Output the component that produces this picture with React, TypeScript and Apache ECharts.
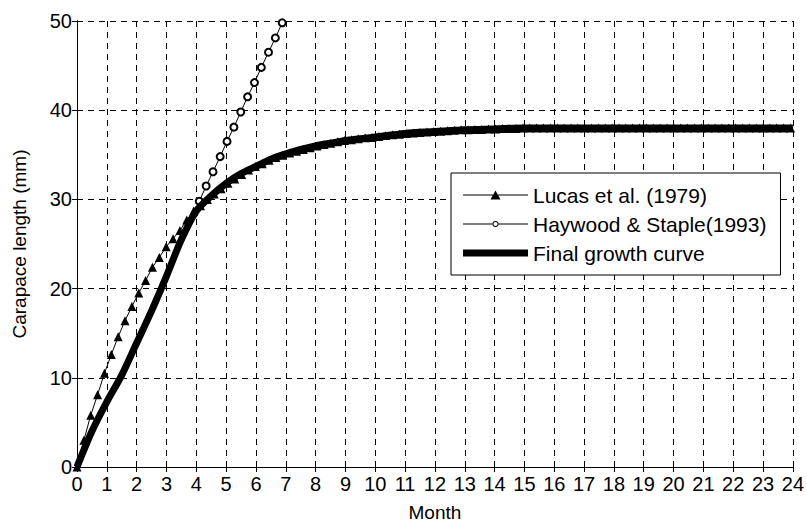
import React, { useEffect, useRef } from "react";
import * as echarts from "echarts";

const lucasMonths = [
  0, 0.23, 0.46, 0.69, 0.92, 1.15, 1.38, 1.61, 1.84, 2.07, 2.3, 2.53, 2.76, 2.99, 3.22, 3.45, 3.68, 3.91,
  4.14, 4.37, 4.6, 4.83, 5.06, 5.29, 5.52, 5.75, 5.98, 6.21, 6.44, 6.67, 6.9, 7.13, 7.36, 7.59, 7.82,
  8.05, 8.28, 8.51, 8.74, 8.97, 9.2, 9.43, 9.66, 9.89, 10.12, 10.35, 10.58, 10.81, 11.04, 11.27, 11.5,
  11.73, 11.96, 12.19, 12.42, 12.65, 12.88, 13.11, 13.34, 13.57, 13.8, 14.03, 14.26, 14.49, 14.72, 14.95,
  15.18, 15.41, 15.64, 15.87, 16.1, 16.33, 16.56, 16.79, 17.02, 17.25, 17.48, 17.71, 17.94, 18.17, 18.4,
  18.63, 18.86, 19.09, 19.32, 19.55, 19.78, 20.01, 20.24, 20.47, 20.7, 20.93, 21.16, 21.39, 21.62, 21.85,
  22.08, 22.31, 22.54, 22.77, 23.0, 23.23, 23.46, 23.69, 23.92,
];
const lucasLength = [
  0, 3.0, 5.8, 8.1, 10.5, 12.6, 14.6, 16.4, 18.0, 19.5, 20.9, 22.4, 23.5, 24.7, 25.6, 26.5, 27.7, 28.7,
  29.3, 30.0, 30.6, 31.2, 31.8, 32.3, 32.8, 33.3, 33.7, 34.0, 34.4, 34.7, 34.95, 35.2, 35.4, 35.6, 35.8,
  36.0, 36.15, 36.3, 36.45, 36.6, 36.7, 36.8, 36.9, 36.95, 37.05, 37.15, 37.25, 37.3, 37.4, 37.45, 37.5,
  37.55, 37.6, 37.65, 37.7, 37.75, 37.8, 37.8, 37.85, 37.85, 37.9, 37.9, 37.95, 37.95, 37.95, 38.0,
  38.0, 38.0, 38.0, 38.0, 38.0, 38.0, 38.0, 38.0, 38.0, 38.0, 38.0, 38.0, 38.0, 38.0, 38.0,
  38.0, 38.0, 38.0, 38.0, 38.0, 38.0, 38.0, 38.0, 38.0, 38.0, 38.0, 38.0, 38.0, 38.0, 38.0,
  38.0, 38.0, 38.0, 38.0, 38.0, 38.0, 38.0, 38.0, 38.0,
];

const haywoodMonths = [4.1, 4.33, 4.56, 4.8, 5.03, 5.26, 5.49, 5.72, 5.95, 6.18, 6.42, 6.65, 6.88];
const haywoodLength = [29.8, 31.5, 33.1, 34.8, 36.5, 38.1, 39.8, 41.5, 43.1, 44.8, 46.5, 48.1, 49.8];

const finalMonths = [
  0, 0.5, 1, 1.5, 2, 2.5, 3, 3.5, 4, 4.5, 5, 5.5, 6, 6.5, 7, 7.5, 8, 8.5, 9, 9.5, 10,
  11, 12, 13, 14, 15, 16, 17, 18, 19, 20, 21, 22, 23, 24,
];
const finalLength = [
  0, 4.0, 7.3, 10.3, 13.9, 17.5, 21.4, 25.5, 28.7, 30.4, 31.8, 32.9, 33.7, 34.5, 35.1, 35.6, 36.0, 36.3,
  36.6, 36.8, 37.0, 37.4, 37.6, 37.8, 37.9, 38.0, 38.0, 38.0, 38.0, 38.0, 38.0, 38.0, 38.0, 38.0, 38.0,
];

const seriesNames = ["Lucas et al. (1979)", "Haywood & Staple(1993)", "Final growth curve"];
const xAxisName = "Month";
const yAxisName = "Carapace length (mm)";

function pairs(xs: number[], ys: number[]) {
  const n = Math.min(xs.length, ys.length);
  const out: number[][] = [];
  for (let i = 0; i < n; i++) out.push([xs[i], ys[i]]);
  return out;
}

const FONT = "Arial, 'Liberation Sans', Helvetica, sans-serif";

const ICON_LUCAS = "path://M0,4L65,4L65,5L0,5Z M27.5,9L32.5,0L37.5,9Z";
const ICON_HAYWOOD =
  "path://M0,3.5L29.5,3.5L29.5,4.5L0,4.5Z M35.5,3.5L65,3.5L65,4.5L35.5,4.5Z " +
  "M29.5,4A3,3 0 1,1 35.5,4A3,3 0 1,1 29.5,4Z M30.4,4A2.1,2.1 0 1,0 34.6,4A2.1,2.1 0 1,0 30.4,4Z";
const ICON_FINAL = "path://M0,0L65,0L65,7L0,7Z";

export default function App() {
  const ref = useRef<HTMLDivElement>(null);
  useEffect(() => {
    if (!ref.current) return;
    const chart = echarts.init(ref.current, null, { renderer: "svg" });
    const grid = { color: "#000", type: [6, 5] as any, width: 1 };
    const iconStyle = { color: "#000", borderWidth: 0 };
    chart.setOption({
      animation: false,
      backgroundColor: "#fff",
      textStyle: { fontFamily: FONT, color: "#000" },
      grid: { left: 77, right: 10, top: 21, bottom: 55, containLabel: false },
      legend: {
        orient: "vertical",
        left: 451,
        top: 173,
        padding: [10, 14, 10, 12],
        itemGap: 5,
        itemWidth: 65,
        itemHeight: 20,
        backgroundColor: "#fff",
        borderColor: "#000",
        borderWidth: 1,
        borderRadius: 0,
        symbolKeepAspect: true,
        textStyle: { fontSize: 21, lineHeight: 24, color: "#000", fontFamily: FONT },
        data: [
          { name: seriesNames[0], icon: ICON_LUCAS, itemStyle: iconStyle },
          { name: seriesNames[1], icon: ICON_HAYWOOD, itemStyle: iconStyle },
          { name: seriesNames[2], icon: ICON_FINAL, itemStyle: iconStyle },
        ],
      },
      xAxis: [
        {
          type: "value",
          min: 0,
          max: 24,
          interval: 1,
          name: xAxisName,
          nameLocation: "middle",
          nameGap: 36,
          nameTextStyle: { fontSize: 19, color: "#000", fontFamily: FONT },
          axisLine: { show: true, lineStyle: { color: "#000", width: 1 } },
          axisTick: { show: true, inside: true, length: 5, lineStyle: { color: "#000" } },
          axisLabel: { fontSize: 20, color: "#000", margin: 7, fontFamily: FONT },
          splitLine: { show: true, lineStyle: grid },
        },
        {
          type: "value",
          position: "top",
          min: 0,
          max: 24,
          interval: 1,
          axisLine: { show: true, lineStyle: { color: "#000", width: 1 } },
          axisTick: { show: true, inside: true, length: 5, lineStyle: { color: "#000" } },
          axisLabel: { show: false },
          splitLine: { show: false },
        },
      ],
      yAxis: [
        {
          type: "value",
          min: 0,
          max: 50,
          interval: 10,
          name: yAxisName,
          nameLocation: "middle",
          nameGap: 48,
          nameTextStyle: { fontSize: 19, color: "#000", fontFamily: FONT },
          axisLine: { show: true, lineStyle: { color: "#000", width: 1 } },
          axisTick: { show: true, inside: true, length: 5, lineStyle: { color: "#000" } },
          axisLabel: { fontSize: 20, color: "#000", margin: 5, fontFamily: FONT },
          splitLine: { show: true, lineStyle: grid },
        },
        {
          type: "value",
          position: "right",
          min: 0,
          max: 50,
          interval: 10,
          axisLine: { show: true, lineStyle: { color: "#000", width: 1 } },
          axisTick: { show: true, inside: true, length: 5, lineStyle: { color: "#000" } },
          axisLabel: { show: false },
          splitLine: { show: false },
        },
      ],
      series: [
        {
          name: seriesNames[0],
          type: "line",
          xAxisIndex: 0,
          yAxisIndex: 0,
          data: pairs(lucasMonths, lucasLength),
          symbol: "triangle",
          symbolSize: 9,
          showAllSymbol: true,
          lineStyle: { color: "#000", width: 1 },
          itemStyle: { color: "#000" },
          z: 2,
        },
        {
          name: seriesNames[1],
          type: "line",
          xAxisIndex: 0,
          yAxisIndex: 0,
          data: pairs(haywoodMonths, haywoodLength),
          symbol: "emptyCircle",
          symbolSize: 7,
          showAllSymbol: true,
          lineStyle: { color: "#000", width: 1 },
          itemStyle: { color: "#000", borderWidth: 1 },
          z: 3,
        },
        {
          name: seriesNames[2],
          type: "line",
          xAxisIndex: 0,
          yAxisIndex: 0,
          data: pairs(finalMonths, finalLength),
          smooth: 0.3,
          showSymbol: false,
          symbol: "none",
          lineStyle: { color: "#000", width: 7 },
          itemStyle: { color: "#000" },
          z: 4,
        },
      ],
    });
    return () => chart.dispose();
  }, []);
  return (
    <div
      ref={ref}
      style={{ position: "fixed", left: 0, top: 0, width: 807, height: 527, background: "#fff" }}
    />
  );
}
